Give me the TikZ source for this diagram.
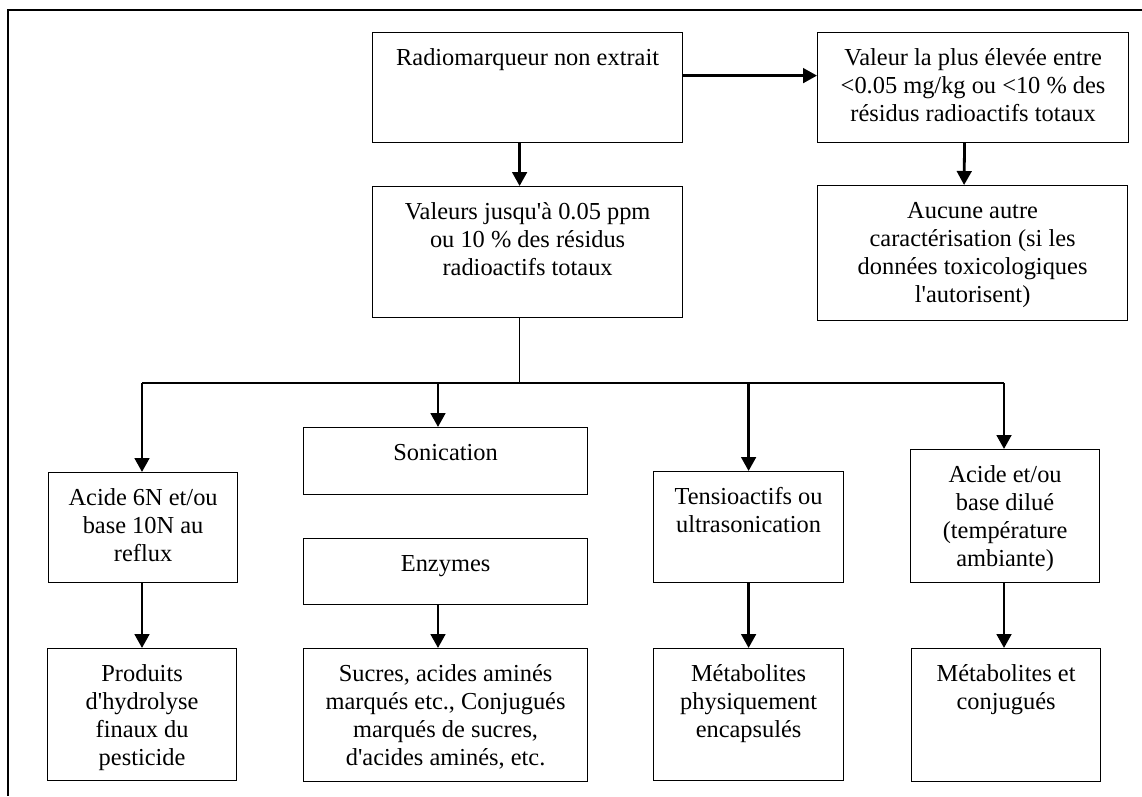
\documentclass[tikz,border=0pt]{standalone}
\usepackage{fontspec}
\setmainfont{Liberation Serif}[Ligatures=TeXOff]
\usetikzlibrary{arrows.meta}
\newcommand{\mtxt}[1]{\begin{tabular}[t]{@{}c@{}}#1\end{tabular}}
\newcommand{\mybox}[6]{%
  \node[box, minimum width={(#4-#2)*0.75pt}, minimum height={(#5-#3)*0.75pt}] (#1) at (#2,#3) {};
  \node[txt] (#1t) at ([yshift=-24.75pt]#1.north) {\mtxt{#6}};}
\begin{document}
\begin{tikzpicture}[x=0.75pt,y=-0.75pt,
  box/.style={draw, line width=0.9pt, inner sep=0pt, anchor=north west},
  txt/.style={anchor=base, inner sep=0pt, font=\fontsize{18.3}{21}\selectfont},
  arr/.style={line width=2.1pt, -{Triangle[length=10.5pt,width=11pt]}},
  conn/.style={line width=1pt},
  frame/.style={line width=1pt}]
\useasboundingbox (0,0) rectangle (1142,796);
\coordinate (fTR) at (1142,10);
\coordinate (fTL) at (8,10);
\coordinate (fBL) at (8,796);
\draw[frame] (fTR) -- (fTL) -- (fBL);

\mybox{radio}{372}{32}{682}{142}{Radiomarqueur non extrait}
\mybox{valeur}{817}{32}{1128}{142}{Valeur la plus élevée entre\\<0.05 mg/kg ou <10 \% des\\résidus radioactifs totaux}
\mybox{aucune}{817}{185}{1127}{320}{Aucune autre\\caractérisation (si les\\données toxicologiques\\l'autorisent)}
\mybox{valeurs}{372}{186}{682}{317}{Valeurs jusqu'à 0.05 ppm\\ou 10 \% des résidus\\radioactifs totaux}
\mybox{acidsix}{48}{472}{237}{582}{Acide 6N et/ou\\base 10N au\\reflux}
\mybox{sonic}{303}{427}{587}{494}{Sonication}
\mybox{enz}{303}{538}{587}{604}{Enzymes}
\mybox{tensio}{653}{471}{843}{582}{Tensioactifs ou\\ultrasonication}
\mybox{aciddil}{910}{449}{1099}{582}{Acide et/ou\\base dilué\\(température\\ambiante)}
\mybox{prod}{47}{648}{236}{780}{Produits\\d'hydrolyse\\finaux du\\pesticide}
\mybox{sucres}{303}{648}{587}{781}{Sucres, acides aminés\\marqués etc., Conjugués\\marqués de sucres,\\d'acides aminés, etc.}
\mybox{metphys}{653}{648}{843}{780}{Métabolites\\physiquement\\encapsulés}
\mybox{metconj}{911}{648}{1100}{781}{Métabolites et\\conjugués}

% top connectors
\draw[arr] ([yshift=9pt]radio.east) -- ([yshift=9pt]radio.east -| valeur.west);
\draw[arr] ([xshift=-6pt]radio.south) -- ([xshift=-6pt]valeurs.north);
\draw[arr] ([xshift=-6.4pt]valeur.south) -- ([xshift=-6.4pt]aucune.north);

% bus
\coordinate (busL) at (142,383);
\coordinate (busR) at (1004,383);
\coordinate (busS) at (438,383);
\draw[conn] ([xshift=-6pt]valeurs.south) -- ([xshift=-6pt]valeurs.south |- busL);
\draw[conn] (busL) -- (busR);
\draw[arr] (busL) -- (busL |- acidsix.north);
\draw[arr] (busS) -- (busS |- sonic.north);
\draw[arr] (tensio.north |- busL) -- (tensio.north);
\draw[arr] (busR) -- (busR |- aciddil.north);

% lower connectors
\draw[arr] (acidsix.south -| busL) -- (prod.north -| busL);
\draw[arr] (enz.south -| busS) -- (sucres.north -| busS);
\draw[arr] (tensio.south) -- (metphys.north);
\draw[arr] (aciddil.south -| busR) -- (metconj.north -| busR);
\end{tikzpicture}
\end{document}
